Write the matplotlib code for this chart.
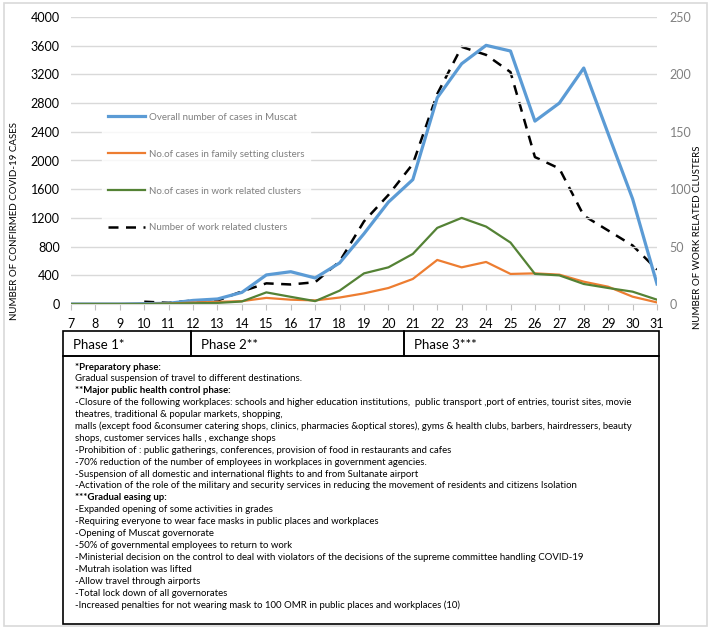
import matplotlib.pyplot as plt
from matplotlib.patches import Rectangle

# Data (days 7..31)
days = list(range(7, 32))
overall_cases = [0, 0, 0, 5, 10, 50, 70, 162, 405, 450, 363, 572, 980, 1420, 1734,
                 2875, 3349, 3605, 3526, 2549, 2800, 3289, 2373, 1466, 279]
family_cases = [0, 0, 0, 0, 5, 20, 30, 40, 85, 60, 50, 90, 148, 223, 349,
                614, 511, 586, 419, 427, 409, 311, 241, 102, 22]
work_cases = [0, 0, 0, 0, 5, 10, 15, 35, 162, 100, 40, 186, 427, 511, 698,
              1061, 1200, 1079, 856, 419, 399, 279, 223, 172, 60]
cluster_days = list(range(10, 32))
work_clusters = [2, 1, 3, 3, 11, 18, 17, 19, 37, 72, 95, 122, 183, 224, 217,
                 202, 128, 118, 77, 64, 51, 30]

series_labels = ["Overall number of cases in Muscat",
                 "No.of cases in family setting clusters",
                 "No.of cases in work related clusters",
                 "Number of work related clusters"]
phase_labels = ["Phase 1*", "Phase 2**", "Phase 3***"]

notes = [
    ("*Preparatory phase:", True),
    ("Gradual suspension of travel to different destinations.", False),
    ("**Major public health control phase:", True),
    ("-Closure of the following workplaces: schools and higher education institutions,  public transport ,port of entries, tourist sites, movie", False),
    ("theatres, traditional & popular markets, shopping,", False),
    ("malls (except food &consumer catering shops, clinics, pharmacies &optical stores), gyms & health clubs, barbers, hairdressers, beauty", False),
    ("shops, customer services halls , exchange shops", False),
    ("-Prohibition of : public gatherings, conferences, provision of food in restaurants and cafes", False),
    ("-70% reduction of the number of employees in workplaces in government agencies.", False),
    ("-Suspension of all domestic and international flights to and from Sultanate airport", False),
    ("-Activation of the role of the military and security services in reducing the movement of residents and citizens Isolation", False),
    ("***Gradual easing up:", True),
    ("-Expanded opening of some activities in grades", False),
    ("-Requiring everyone to wear face masks in public places and workplaces", False),
    ("-Opening of Muscat governorate", False),
    ("-50% of governmental employees to return to work", False),
    ("-Ministerial decision on the control to deal with violators of the decisions of the supreme committee handling COVID-19", False),
    ("-Mutrah isolation was lifted", False),
    ("-Allow travel through airports", False),
    ("-Total lock down of all governorates", False),
    ("-Increased penalties for not wearing mask to 100 OMR in public places and workplaces (10)", False),
]

plt.rcParams['font.family'] = ['Lato', 'DejaVu Sans']

W, H = 710, 629
fig = plt.figure(figsize=(W / 100, H / 100), dpi=100)

def fx(px):
    return px / W

def fy(py):
    return 1 - py / H

ax = fig.add_axes([fx(71), fy(304), fx(657) - fx(71), fy(17) - fy(304)])
ax2 = ax.twinx()
ax.set_zorder(ax2.get_zorder() + 1)
ax.patch.set_visible(False)

l1, = ax.plot(days, overall_cases, color='#5B9BD5', lw=2.3)
l2, = ax.plot(days, family_cases, color='#ED7D31', lw=1.6)
l3, = ax.plot(days, work_cases, color='#548235', lw=1.6)
l4, = ax2.plot(cluster_days, work_clusters, color='black', lw=1.8, dashes=(4, 3))

ax.set_xlim(7, 31)
ax.set_ylim(0, 4000)
ax.set_yticks(range(0, 4001, 400))
ax.set_xticks(days)
ax2.set_ylim(0, 250)
ax2.set_yticks(range(0, 251, 50))

ax2.grid(False)
ax.grid(axis='y', color='#D9D9D9', lw=1)
for a in (ax, ax2):
    for s in a.spines.values():
        s.set_visible(False)
ax.spines['bottom'].set_visible(True)
ax.spines['bottom'].set_color('#D9D9D9')
ax.tick_params(axis='y', length=0, labelsize=9, pad=8)
ax.tick_params(axis='x', length=4, color='#BFBFBF', labelsize=9, pad=6)
ax2.tick_params(axis='y', length=0, labelsize=9, labelcolor='#808080', pad=9)

leg = ax.legend([l1, l2, l3, l4], series_labels, loc='center left',
                bbox_to_anchor=(0.045, 0.458), frameon=True, fontsize=7,
                labelspacing=2.87, handlelength=3.8, handletextpad=0.4,
                borderpad=0.6, fancybox=False)
leg.get_frame().set_edgecolor('white')
leg.get_frame().set_facecolor('white')
for t in leg.get_texts():
    t.set_color('#7F7F7F')

fig.text(fx(15), fy(221), "NUMBER OF CONFIRMED COVID-19 CASES", rotation=90,
         ha='center', va='center', fontsize=7)
fig.text(fx(697), fy(237), "NUMBER OF WORK RELATED CLUSTERS", rotation=90,
         ha='center', va='center', fontsize=7)

# phase row
phase_edges = [63, 191, 404, 659]
for i, lab in enumerate(phase_labels):
    x0, x1 = phase_edges[i], phase_edges[i + 1]
    fig.patches.append(Rectangle((fx(x0), fy(356)), fx(x1) - fx(x0), fy(331) - fy(356),
                                 transform=fig.transFigure, fill=False,
                                 edgecolor='black', lw=1.2))
    fig.text(fx(x0 + 10), fy(345), lab, ha='left', va='center', fontsize=9.5)

# notes box
fig.patches.append(Rectangle((fx(63), fy(624)), fx(659) - fx(63), fy(356) - fy(624),
                             transform=fig.transFigure, fill=False,
                             edgecolor='black', lw=1.2))
for i, (line, bold) in enumerate(notes):
    fig.text(fx(75), fy(367 + i * 11.9), line, ha='left', va='center',
             fontsize=6.95, fontweight='bold' if bold else 'normal')

# outer border
fig.patches.append(Rectangle((fx(4), fy(626)), fx(707) - fx(4), fy(3) - fy(626),
                             transform=fig.transFigure, fill=False,
                             edgecolor='#D9D9D9', lw=1.2))

fig.savefig('out.png', dpi=100)
